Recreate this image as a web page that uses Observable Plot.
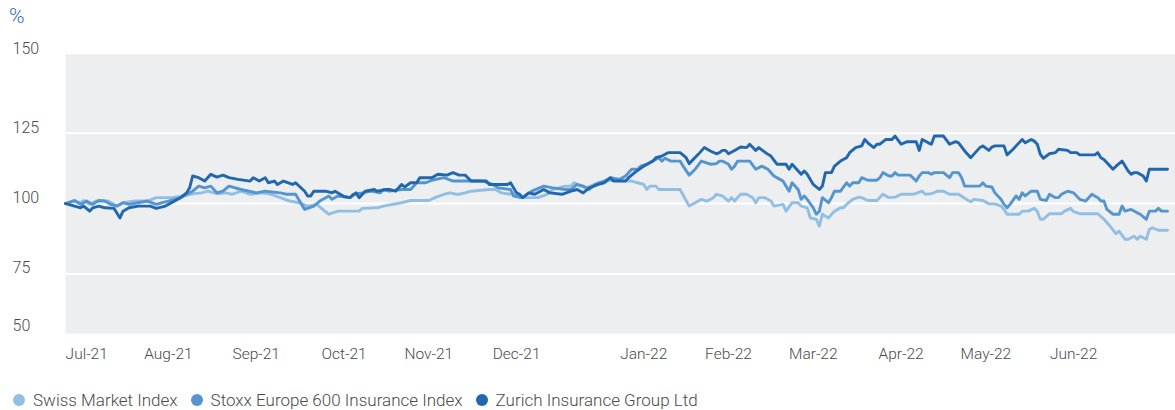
<!DOCTYPE html>
<html><head><meta charset="utf-8">
<script src="https://cdn.jsdelivr.net/npm/d3@7"></script>
<script src="https://cdn.jsdelivr.net/npm/@observablehq/plot@0.6"></script>
<style>
body{margin:0;background:#fff;font-family:Roboto,"Noto Sans",sans-serif;}
#wrap{position:relative;width:1175px;height:410px;overflow:hidden;}
#unit{position:absolute;left:9px;top:4px;font-size:21px;font-weight:300;color:#2e6fb7;}
#chart{position:absolute;left:0;top:0;}
#legend{position:absolute;left:13px;top:389px;height:22px;display:flex;align-items:center;font-size:17px;font-weight:300;color:#4a4a4a;}
#legend .it{display:flex;align-items:center;margin-right:13px;}
#legend .dot{width:12px;height:12px;border-radius:50%;margin-right:8px;}
</style></head>
<body><div id="wrap"><div id="chart"></div><div id="unit">%</div><div id="legend"></div></div>
<script>
const seriesNames = ["Swiss Market Index","Stoxx Europe 600 Insurance Index","Zurich Insurance Group Ltd"];
const seriesColors = ["#91bfe3","#5495cf","#2167ae"];
const yGridValues = [75,100,125];
const yTickLabels = [150,125,100,75,50];
const xTickDates = ["2021-07-08","2021-08-04","2021-09-02","2021-10-01","2021-10-29","2021-11-27","2022-01-08","2022-02-05","2022-03-05","2022-04-03","2022-05-01","2022-05-30"];
const xTickLabels = ["Jul-21","Aug-21","Sep-21","Oct-21","Nov-21","Dec-21","Jan-22","Feb-22","Mar-22","Apr-22","May-22","Jun-22"];

const smi = [["2021-07-01",100],["2021-07-04",100.9],["2021-07-06",100.3],["2021-07-07",101.1],["2021-07-09",99.7],["2021-07-11",100.9],["2021-07-15",100.9],["2021-07-18",99.1],["2021-07-20",100.3],["2021-07-24",100.9],["2021-07-28",100.9],["2021-07-31",102.1],["2021-08-05",102.1],["2021-08-09",102.7],["2021-08-12",103.5],["2021-08-15",103.8],["2021-08-17",104.4],["2021-08-20",103.5],["2021-08-23",103.8],["2021-08-25",103.3],["2021-08-28",104.4],["2021-08-31",103.3],["2021-09-04",103.8],["2021-09-07",103.3],["2021-09-10",102.1],["2021-09-13",100.9],["2021-09-16",100.3],["2021-09-19",99.1],["2021-09-22",99.7],["2021-09-24",97.9],["2021-09-26",96.2],["2021-09-29",97.3],["2021-10-06",97.3],["2021-10-07",98.3],["2021-10-12",98.5],["2021-10-14",99.1],["2021-10-20",100.3],["2021-10-23",101.1],["2021-10-29",101.1],["2021-10-31",102.1],["2021-11-03",103.3],["2021-11-05",103.8],["2021-11-07",103.3],["2021-11-08",103.3],["2021-11-10",103.8],["2021-11-12",104.4],["2021-11-18",105],["2021-11-20",105],["2021-11-22",103.8],["2021-11-25",103.3],["2021-11-26",103.8],["2021-11-28",102.1],["2021-12-04",102.1],["2021-12-07",103.3],["2021-12-09",105],["2021-12-13",106.2],["2021-12-15",106.2],["2021-12-16",107.4],["2021-12-18",106.2],["2021-12-20",105.6],["2021-12-24",107.4],["2021-12-28",108.3],["2022-01-04",108],["2022-01-06",107.4],["2022-01-08",106.8],["2022-01-09",105],["2022-01-10",106.2],["2022-01-12",106.2],["2022-01-13",105],["2022-01-20",105],["2022-01-23",99.1],["2022-01-25",100.3],["2022-01-27",101.5],["2022-01-29",100.9],["2022-01-31",102.1],["2022-02-01",103.3],["2022-02-03",102.7],["2022-02-05",100.9],["2022-02-06",102.1],["2022-02-07",100.9],["2022-02-09",103.3],["2022-02-11",103.3],["2022-02-13",102.1],["2022-02-14",100.3],["2022-02-15",102.1],["2022-02-17",102.1],["2022-02-19",100.9],["2022-02-20",99.1],["2022-02-23",99.7],["2022-02-24",97.3],["2022-02-26",100.3],["2022-02-28",100.3],["2022-03-01",99.1],["2022-03-03",98.5],["2022-03-04",94.9],["2022-03-06",94.4],["2022-03-07",92],["2022-03-08",96.2],["2022-03-10",94.9],["2022-03-12",97.3],["2022-03-14",98.5],["2022-03-15",98.5],["2022-03-16",99.7],["2022-03-18",101.5],["2022-03-20",102.3],["2022-03-21",102.1],["2022-03-23",101.1],["2022-03-26",101.1],["2022-03-28",103.3],["2022-03-30",102.1],["2022-04-01",102.3],["2022-04-03",103.3],["2022-04-07",103.3],["2022-04-10",104.4],["2022-04-11",103.3],["2022-04-13",103.5],["2022-04-15",104.4],["2022-04-17",104.4],["2022-04-19",103.3],["2022-04-22",103.3],["2022-04-24",101.9],["2022-04-26",100.6],["2022-04-27",101.5],["2022-04-30",101.1],["2022-05-02",99.9],["2022-05-04",99.9],["2022-05-06",99.1],["2022-05-07",97.9],["2022-05-08",96.2],["2022-05-12",96.2],["2022-05-13",97.3],["2022-05-15",97.3],["2022-05-17",98.3],["2022-05-18",97.3],["2022-05-19",94.4],["2022-05-20",94.4],["2022-05-22",96.4],["2022-05-26",96.4],["2022-05-27",97.3],["2022-05-29",98.3],["2022-05-30",97.1],["2022-06-01",96.4],["2022-06-07",96.4],["2022-06-09",94.4],["2022-06-11",92],["2022-06-13",89.3],["2022-06-14",90.2],["2022-06-16",87.3],["2022-06-17",87.3],["2022-06-19",88.4],["2022-06-20",87.3],["2022-06-21",88.4],["2022-06-23",87.3],["2022-06-24",90.8],["2022-06-25",91.4],["2022-06-27",90.5],["2022-06-30",90.5]];

const stoxx = [["2021-07-01",100],["2021-07-04",101.1],["2021-07-06",99.7],["2021-07-08",100.9],["2021-07-10",99.7],["2021-07-12",101.1],["2021-07-14",100.9],["2021-07-16",99.7],["2021-07-18",99.1],["2021-07-20",100.3],["2021-07-22",99.7],["2021-07-25",100.3],["2021-07-28",100.9],["2021-07-31",99.7],["2021-08-02",100.3],["2021-08-04",100.9],["2021-08-08",102.1],["2021-08-10",103.3],["2021-08-12",104.4],["2021-08-14",106.2],["2021-08-16",105.6],["2021-08-18",106.2],["2021-08-20",103.8],["2021-08-22",104.4],["2021-08-24",106.2],["2021-08-28",105],["2021-09-02",103.8],["2021-09-05",104.4],["2021-09-10",103.8],["2021-09-12",103.3],["2021-09-15",103.3],["2021-09-18",97.9],["2021-09-21",99.1],["2021-09-23",100.9],["2021-09-26",102.7],["2021-09-27",101.5],["2021-09-29",102.7],["2021-10-03",102.1],["2021-10-04",103.3],["2021-10-07",103.8],["2021-10-10",104.4],["2021-10-13",103.8],["2021-10-14",105],["2021-10-16",104.4],["2021-10-20",105],["2021-10-23",105],["2021-10-25",107.4],["2021-10-28",107.4],["2021-10-30",108.3],["2021-11-03",109.2],["2021-11-06",108],["2021-11-09",108],["2021-11-16",108],["2021-11-19",106.8],["2021-11-21",105.6],["2021-11-25",105],["2021-11-26",102.7],["2021-11-29",102.1],["2021-12-02",104.4],["2021-12-06",106.2],["2021-12-09",105.6],["2021-12-13",105],["2021-12-15",105],["2021-12-17",106.8],["2021-12-19",106.2],["2021-12-21",105],["2021-12-23",106.8],["2021-12-26",108],["2021-12-28",109.2],["2021-12-31",108.6],["2022-01-02",109.8],["2022-01-04",112.2],["2022-01-06",112.2],["2022-01-07",113.3],["2022-01-09",114],["2022-01-11",115.1],["2022-01-13",116.3],["2022-01-14",115.1],["2022-01-15",116.1],["2022-01-17",115.1],["2022-01-20",115.1],["2022-01-21",113.3],["2022-01-23",110.1],["2022-01-25",112.2],["2022-01-27",115.1],["2022-01-30",114],["2022-02-01",114.2],["2022-02-02",115.1],["2022-02-03",115.1],["2022-02-05",114],["2022-02-06",112.2],["2022-02-07",113.3],["2022-02-08",115.1],["2022-02-12",115.1],["2022-02-14",112.2],["2022-02-16",113.3],["2022-02-18",112.2],["2022-02-20",109.8],["2022-02-22",108.6],["2022-02-23",108],["2022-02-25",104.4],["2022-02-26",107.4],["2022-02-28",105],["2022-03-01",101.5],["2022-03-02",102.7],["2022-03-03",101.5],["2022-03-05",98.5],["2022-03-06",96.2],["2022-03-07",97.3],["2022-03-08",102.1],["2022-03-10",100.3],["2022-03-11",102.1],["2022-03-12",104.4],["2022-03-14",104.4],["2022-03-16",107.4],["2022-03-17",106.2],["2022-03-18",107.4],["2022-03-20",107.4],["2022-03-21",109.2],["2022-03-23",108.3],["2022-03-26",108.3],["2022-03-27",109.2],["2022-03-28",111],["2022-03-30",109.8],["2022-03-31",109.8],["2022-04-01",111],["2022-04-02",110.1],["2022-04-06",110.1],["2022-04-08",108],["2022-04-09",109.8],["2022-04-10",111],["2022-04-12",111],["2022-04-13",110.4],["2022-04-14",111],["2022-04-17",111],["2022-04-19",109.2],["2022-04-20",111],["2022-04-22",111],["2022-04-23",109.2],["2022-04-24",106.2],["2022-04-29",106.2],["2022-04-30",107.4],["2022-05-01",106.2],["2022-05-03",105.9],["2022-05-04",103.8],["2022-05-06",101.5],["2022-05-07",99.7],["2022-05-08",98.5],["2022-05-09",99.7],["2022-05-11",102.7],["2022-05-12",101.5],["2022-05-13",103.8],["2022-05-14",102.7],["2022-05-16",104.4],["2022-05-18",104.4],["2022-05-19",101.5],["2022-05-21",101.1],["2022-05-22",103.3],["2022-05-24",102.1],["2022-05-25",102.1],["2022-05-26",103.3],["2022-05-28",104.4],["2022-05-30",103.8],["2022-06-01",101.5],["2022-06-03",100.9],["2022-06-05",103.3],["2022-06-07",102.1],["2022-06-08",100.9],["2022-06-09",100.9],["2022-06-10",97.9],["2022-06-12",96.2],["2022-06-14",96.2],["2022-06-15",99.1],["2022-06-16",97.3],["2022-06-18",97.9],["2022-06-20",96.7],["2022-06-21",96.2],["2022-06-23",94.4],["2022-06-24",97.3],["2022-06-26",97.3],["2022-06-27",98.3],["2022-06-28",97.3],["2022-06-30",97.3]];

const zurich = [["2021-07-01",100],["2021-07-04",99.1],["2021-07-06",98.5],["2021-07-07",99.1],["2021-07-09",97.3],["2021-07-10",98.5],["2021-07-12",99.1],["2021-07-14",98.5],["2021-07-17",98.3],["2021-07-19",94.9],["2021-07-20",97.3],["2021-07-22",98.5],["2021-07-25",99.1],["2021-07-29",99.1],["2021-07-31",98.3],["2021-08-03",99.1],["2021-08-05",100.3],["2021-08-08",102.1],["2021-08-10",103.8],["2021-08-11",105.6],["2021-08-12",109.8],["2021-08-14",109.2],["2021-08-16",108],["2021-08-18",110.4],["2021-08-20",109.4],["2021-08-22",110.1],["2021-08-24",109.2],["2021-08-27",108.6],["2021-08-31",108],["2021-09-01",109.2],["2021-09-03",108],["2021-09-05",109.2],["2021-09-06",107.4],["2021-09-08",108],["2021-09-09",106.8],["2021-09-11",108],["2021-09-14",106.8],["2021-09-15",107.4],["2021-09-18",104.4],["2021-09-19",102.7],["2021-09-20",102.7],["2021-09-21",104.4],["2021-09-25",104.4],["2021-09-27",103.8],["2021-09-28",104.4],["2021-10-01",102.5],["2021-10-03",102.1],["2021-10-05",103.8],["2021-10-06",102.1],["2021-10-08",104.4],["2021-10-11",105],["2021-10-12",104.4],["2021-10-15",105],["2021-10-16",105],["2021-10-18",104.4],["2021-10-20",106.8],["2021-10-21",105.9],["2021-10-23",107.4],["2021-10-25",107.4],["2021-10-26",109.2],["2021-10-30",109.2],["2021-11-01",110.4],["2021-11-04",110.1],["2021-11-06",111],["2021-11-08",110.1],["2021-11-10",110.1],["2021-11-12",108],["2021-11-17",108],["2021-11-18",106.8],["2021-11-24",106.8],["2021-11-25",107.4],["2021-11-27",103.8],["2021-11-28",103.3],["2021-11-29",102.1],["2021-12-01",103.8],["2021-12-03",103.3],["2021-12-06",105],["2021-12-08",103.8],["2021-12-12",103.3],["2021-12-15",104.4],["2021-12-17",105],["2021-12-19",103.8],["2021-12-21",105.6],["2021-12-24",106.8],["2021-12-26",107.4],["2021-12-28",109.2],["2021-12-29",108],["2022-01-02",108],["2022-01-03",109.2],["2022-01-05",111],["2022-01-08",113.3],["2022-01-11",115.1],["2022-01-12",116.3],["2022-01-14",116.9],["2022-01-16",118.1],["2022-01-20",118.1],["2022-01-22",116.3],["2022-01-23",114.2],["2022-01-26",117.5],["2022-01-28",119.9],["2022-01-30",118.7],["2022-02-01",117.7],["2022-02-02",118.1],["2022-02-03",118.9],["2022-02-04",118.9],["2022-02-05",117.7],["2022-02-07",118.9],["2022-02-09",120.1],["2022-02-11",119.9],["2022-02-12",121.1],["2022-02-14",118.9],["2022-02-15",119.9],["2022-02-18",117.5],["2022-02-19",116.9],["2022-02-21",114],["2022-02-24",114],["2022-02-25",112.2],["2022-02-26",114],["2022-03-01",110.4],["2022-03-02",111.6],["2022-03-03",110.4],["2022-03-05",106.8],["2022-03-07",105],["2022-03-08",106.2],["2022-03-09",111],["2022-03-11",111],["2022-03-12",113.3],["2022-03-14",115.1],["2022-03-16",116.3],["2022-03-17",118.1],["2022-03-19",119.9],["2022-03-21",120.5],["2022-03-22",122.8],["2022-03-23",121.6],["2022-03-25",119.9],["2022-03-26",121.1],["2022-03-27",121.1],["2022-03-29",122.8],["2022-03-31",122.8],["2022-04-01",124],["2022-04-03",121.1],["2022-04-05",122],["2022-04-08",122],["2022-04-09",118.9],["2022-04-10",122.8],["2022-04-12",121.6],["2022-04-13",121.1],["2022-04-14",124],["2022-04-17",124],["2022-04-19",121.1],["2022-04-21",122],["2022-04-22",121.6],["2022-04-24",118.7],["2022-04-26",116.3],["2022-04-27",117.5],["2022-04-29",119.9],["2022-04-30",120.5],["2022-05-02",118.9],["2022-05-03",120.1],["2022-05-04",120.5],["2022-05-07",120.5],["2022-05-08",117.3],["2022-05-10",119.3],["2022-05-11",120.5],["2022-05-13",122.8],["2022-05-14",121.6],["2022-05-16",122.8],["2022-05-17",122.2],["2022-05-18",121.1],["2022-05-19",117.5],["2022-05-20",116.1],["2022-05-22",117.7],["2022-05-24",118.1],["2022-05-25",119.3],["2022-05-28",118.9],["2022-05-29",118.1],["2022-05-31",118.1],["2022-06-01",117.3],["2022-06-06",117.3],["2022-06-07",118.1],["2022-06-08",116.3],["2022-06-09",115.7],["2022-06-12",112.2],["2022-06-13",113.3],["2022-06-15",115.1],["2022-06-17",111.6],["2022-06-18",110.4],["2022-06-19",111],["2022-06-20",111],["2022-06-22",109.8],["2022-06-23",108],["2022-06-24",112.2],["2022-06-30",112.2]];

const toRows = arr => arr.map(([d, v]) => ({date: new Date(d), value: v}));
const seriesData = [smi, stoxx, zurich].map(toRows);
const xTicks = xTickDates.map((d, i) => ({date: new Date(d), label: xTickLabels[i]}));

const textStyle = {fill: "#4a4a4a", fontSize: 16, fontWeight: 300};
const yLabel = (vals, dy) => Plot.text(vals, {y: d => d, text: d => String(d), frameAnchor: "left", textAnchor: "start", dx: -53, dy, ...textStyle});

const chart = Plot.plot({
  width: 1175,
  height: 372,
  marginLeft: 65,
  marginRight: 0,
  marginTop: 54,
  marginBottom: 39,
  style: {fontFamily: "Roboto, 'Noto Sans', sans-serif", background: "transparent", overflow: "visible"},
  x: {type: "utc", domain: [new Date("2021-07-01"), new Date("2022-06-30")], range: [65, 1167], axis: null},
  y: {domain: [53.8, 153], axis: null},
  marks: [
    Plot.frame({fill: "#edeef0", stroke: null}),
    Plot.ruleY(yGridValues, {stroke: "#ffffff", strokeWidth: 2}),
    ...seriesData.map((rows, i) => Plot.line(rows, {x: "date", y: "value", stroke: seriesColors[i], strokeWidth: 2.9, strokeLinejoin: "round"})),
    yLabel(yTickLabels.filter(v => v === 150), -14),
    yLabel(yTickLabels.filter(v => v > 50 && v < 150), -5.6),
    yLabel(yTickLabels.filter(v => v === 50), -18),
    Plot.text(xTicks, {x: "date", text: "label", frameAnchor: "bottom", lineAnchor: "middle", dy: 20.5, ...textStyle, fontSize: 15.5})
  ]
});
document.getElementById("chart").appendChild(chart);

const legend = document.getElementById("legend");
seriesNames.forEach((name, i) => {
  const it = document.createElement("div");
  it.className = "it";
  const dot = document.createElement("span");
  dot.className = "dot";
  dot.style.background = seriesColors[i];
  const label = document.createElement("span");
  label.textContent = name;
  it.appendChild(dot); it.appendChild(label);
  legend.appendChild(it);
});
</script></body></html>
